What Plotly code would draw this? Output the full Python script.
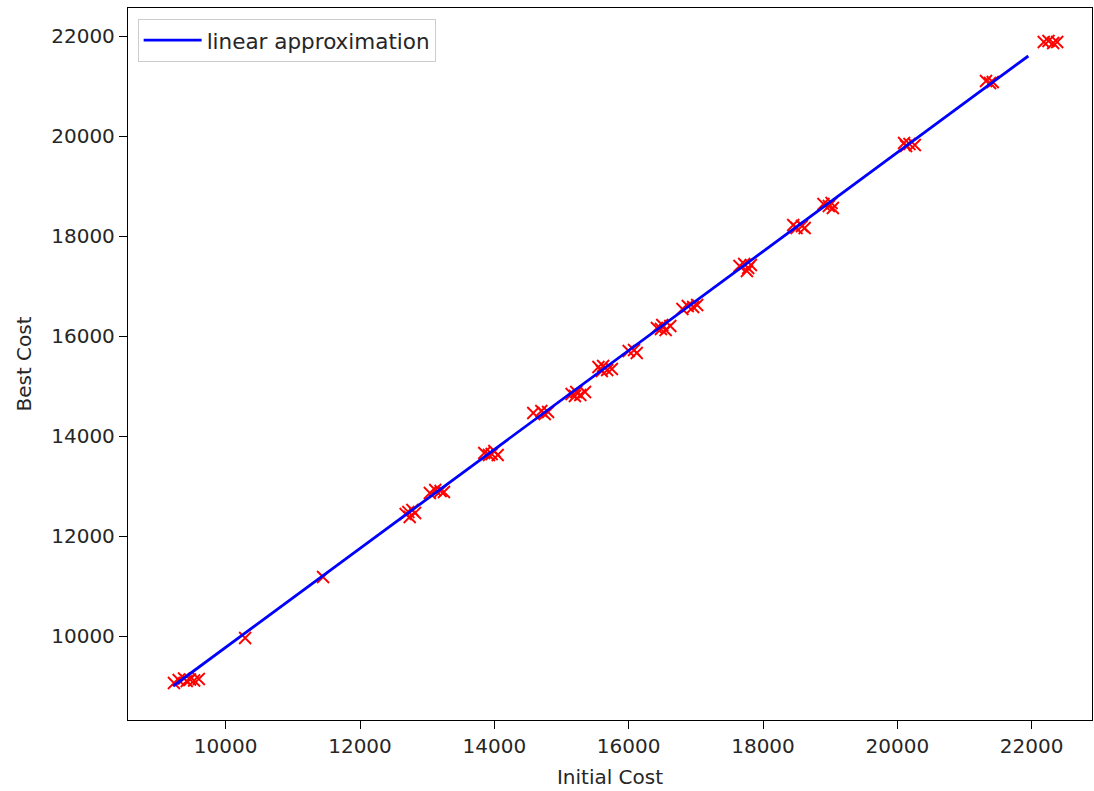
import plotly.graph_objects as go

# Initial vs best cost for each run
initial_cost = [
    9230, 9300, 9380, 9420, 9470, 9530, 9600,
    10290,
    11450,
    12680, 12740, 12780, 12820, 12720,
    13040, 13120, 13200, 13250,
    13850, 13920, 14000, 14050, 13960,
    14580, 14700, 14800, 14750,
    15150, 15220, 15280, 15350, 15200,
    15550, 15620, 15680, 15750, 15600,
    16000, 16080, 16120,
    16420, 16500, 16550, 16620, 16480,
    16800, 16880, 16960, 17020,
    17650, 17720, 17780, 17820, 17760,
    18450, 18500, 18580, 18620,
    18900, 18980, 19040, 19020,
    20100, 20180, 20260, 20130,
    21320, 21380, 21420,
    22180, 22250, 22320, 22380,
]
best_cost = [
    9060, 9120, 9150, 9100, 9130, 9110, 9140,
    9960,
    11180,
    12440, 12380, 12520, 12460, 12480,
    12860, 12920, 12900, 12880,
    13660, 13620, 13700, 13620, 13640,
    14460, 14500, 14480, 14440,
    14840, 14880, 14820, 14880, 14800,
    15380, 15400, 15320, 15340, 15300,
    15700, 15720, 15660,
    16160, 16220, 16120, 16200, 16140,
    16540, 16600, 16580, 16620,
    17400, 17440, 17360, 17420, 17300,
    18220, 18160, 18200, 18160,
    18640, 18600, 18560, 18660,
    19860, 19840, 19820, 19800,
    21100, 21060, 21080,
    21880, 21900, 21860, 21880,
]

# End points of the fitted line
fit_x = [9220, 21950]
fit_y = [9000, 21600]

x_ticks = [10000, 12000, 14000, 16000, 18000, 20000, 22000]
y_ticks = [10000, 12000, 14000, 16000, 18000, 20000, 22000]

font = dict(family="DejaVu Sans", size=20, color="#262626")
legend_font = dict(family="DejaVu Sans", size=21.5, color="#262626")

fig = go.Figure()
fig.add_trace(go.Scatter(
    x=initial_cost, y=best_cost, mode="markers", showlegend=False,
    marker=dict(symbol="x-thin", size=12, color="red",
                line=dict(color="red", width=1.8)),
))
fig.add_trace(go.Scatter(
    x=fit_x, y=fit_y, mode="lines", name="linear approximation",
    line=dict(color="blue", width=2.8),
))

axis_common = dict(
    showgrid=False, zeroline=False, showline=True, mirror=True,
    linecolor="black", linewidth=1.3, ticks="outside", ticklen=8,
    tickwidth=1.3, tickcolor="black", tickfont=font,
)

fig.update_layout(
    width=1094, height=791,
    margin=dict(l=128, r=2, t=8, b=71),
    plot_bgcolor="white", paper_bgcolor="white",
    font=font,
    xaxis=dict(range=[8546, 22898], tickvals=x_ticks,
               ticktext=[str(v) for v in x_ticks],
               title=dict(text="Initial Cost", font=font, standoff=12),
               **axis_common),
    yaxis=dict(range=[8320, 22560], tickvals=y_ticks,
               ticktext=[str(v) for v in y_ticks],
               title=dict(text="Best Cost", font=font, standoff=14),
               **axis_common),
    legend=dict(x=0.01, y=0.985, xanchor="left", yanchor="top",
                bordercolor="#cccccc", borderwidth=1, bgcolor="white",
                font=legend_font, itemwidth=58),
)

fig.write_html("out.html")
